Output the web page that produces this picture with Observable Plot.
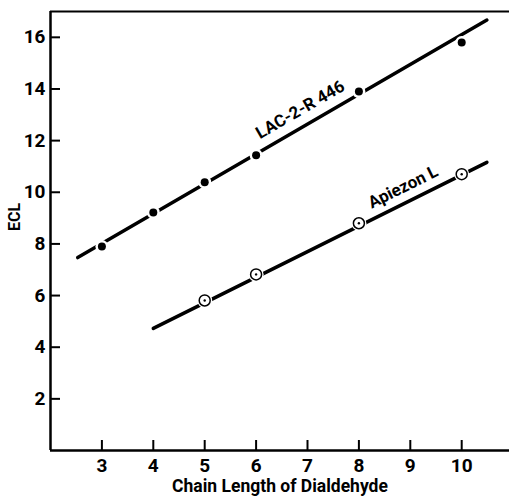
<!DOCTYPE html>
<html><head><meta charset="utf-8">
<script src="https://cdn.jsdelivr.net/npm/d3@7"></script>
<script src="https://cdn.jsdelivr.net/npm/@observablehq/plot@0.6"></script>
<style>
body{margin:0;background:#fff;}
</style></head><body>
<div id="chart"></div>
<script>
const chain = [3, 4, 5, 6, 8, 10];
const lacECL = [7.9, 9.22, 10.39, 11.43, 13.9, 15.8];
const apiChain = [5, 6, 8, 10];
const apiECL = [5.81, 6.82, 8.8, 10.7];
const lacFitX = [2.53, 10.49];
const lacFitY = [7.47, 16.67];
const apiFitX = [4.0, 10.49];
const apiFitY = [4.73, 11.16];
const xTicks = [3, 4, 5, 6, 7, 8, 9, 10];
const yTicks = [2, 4, 6, 8, 10, 12, 14, 16];
const labels = [
  {x: 6.86, y: 13.2, text: "LAC-2-R 446", angle: -30},
  {x: 8.86, y: 10.2, text: "Apiezon L", angle: -26.5}
];

const lac = chain.map((c, i) => ({x: c, y: lacECL[i]}));
const api = apiChain.map((c, i) => ({x: c, y: apiECL[i]}));
const lacFit = lacFitX.map((c, i) => ({x: c, y: lacFitY[i]}));
const apiFit = apiFitX.map((c, i) => ({x: c, y: apiFitY[i]}));

const W = 509, H = 501, mL = 50, mT = 11, mB = 51, mR = 0, tick = 10;

const chart = Plot.plot({
  width: W, height: H,
  marginLeft: mL, marginTop: mT, marginBottom: mB, marginRight: mR,
  style: {fontFamily: "Roboto, sans-serif", fontWeight: "bold", background: "white"},
  x: {domain: [2, 10.93], label: null},
  y: {domain: [0, 17], label: null},
  marks: [
    Plot.ruleY([0], {strokeWidth: 2.5}),
    Plot.ruleY([17], {strokeWidth: 2}),
    Plot.ruleX([2], {strokeWidth: 2.5}),
    Plot.tickY(yTicks, {y: d => d, insetRight: W - mL - mR - tick, strokeWidth: 2}),
    Plot.tickX(xTicks, {x: d => d, insetTop: H - mT - mB - tick, strokeWidth: 2}),
    Plot.axisX({ticks: xTicks, tickSize: 0, tickPadding: 8, fontSize: 19, label: null}),
    Plot.axisY({ticks: yTicks, tickSize: 0, tickPadding: 5, fontSize: 19, label: null}),
    Plot.text(["Chain Length of Dialdehyde"], {frameAnchor: "bottom", dy: 41, fontSize: 17.5}),
    Plot.text(["ECL"], {frameAnchor: "left", dx: -36, rotate: -90, fontSize: 16}),
    Plot.line(lacFit, {x: "x", y: "y", strokeWidth: 3.5}),
    Plot.line(apiFit, {x: "x", y: "y", strokeWidth: 3.5}),
    Plot.dot(lac, {x: "x", y: "y", r: 6.5, fill: "white"}),
    Plot.dot(lac, {x: "x", y: "y", r: 4, fill: "black"}),
    Plot.dot(api, {x: "x", y: "y", r: 7.5, fill: "white"}),
    Plot.dot(api, {x: "x", y: "y", r: 5.5, fill: "white", stroke: "black", strokeWidth: 1.5}),
    Plot.dot(api, {x: "x", y: "y", r: 1.2, fill: "black"}),
    Plot.text(labels, {x: "x", y: "y", text: "text", rotate: "angle", fontSize: 17})
  ]
});
document.getElementById("chart").appendChild(chart);
</script>
</body></html>
